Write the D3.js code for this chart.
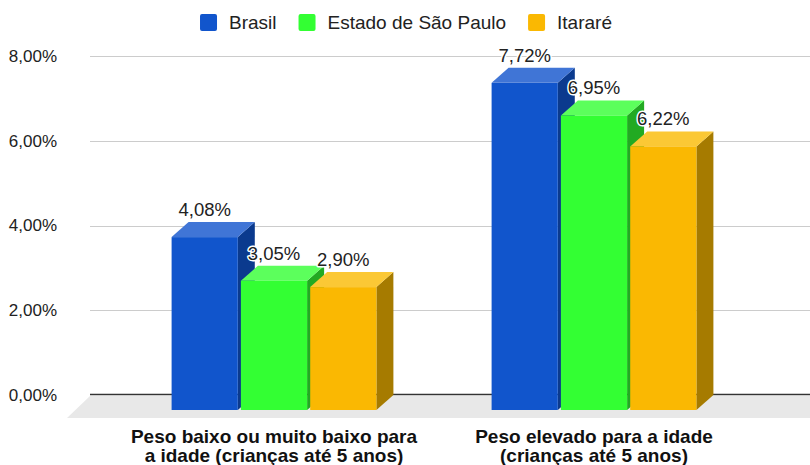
<!DOCTYPE html>
<html>
<head>
<meta charset="utf-8">
<script src="https://cdn.jsdelivr.net/npm/d3@7"></script>
<style>
  body { margin: 0; background: #fff; }
  svg { display: block; font-family: Arial, "Liberation Sans", sans-serif; }
</style>
</head>
<body>
<svg id="chart" width="810" height="465"></svg>
<script>
const categories = ["Peso baixo ou muito baixo para a idade (crianças até 5 anos)", "Peso elevado para a idade (crianças até 5 anos)"];
const categoryLines = [["Peso baixo ou muito baixo para", "a idade (crianças até 5 anos)"], ["Peso elevado para a idade", "(crianças até 5 anos)"]];
const seriesNames = ["Brasil", "Estado de São Paulo", "Itararé"];
const brasil = [4.08, 7.72];
const saoPaulo = [3.05, 6.95];
const itarare = [2.90, 6.22];
const yTicks = [0, 2, 4, 6, 8];

const seriesValues = [brasil, saoPaulo, itarare];
const colors = [
  { front: "#1155cc", top: "#4075d6", side: "#0b3a8e" },
  { front: "#33ff33", top: "#5cff5c", side: "#22aa22" },
  { front: "#fab802", top: "#fbc835", side: "#a67b00" }
];

const locale = d3.formatLocale({ decimal: ",", thousands: ".", grouping: [3], currency: ["", ""] });
const pct = locale.format(".2f");

// 3d depth offset (back plane = front + dx, -dy)
const dx = 17, dy = 15;

const svg = d3.select("#chart");

const y = d3.scaleLinear().domain([0, 8]).range([395, 56]);

const x0 = d3.scaleBand()
  .domain(categories)
  .range([114, 754])
  .paddingInner(0.36)
  .paddingOuter(0.18);

const x1 = d3.scaleBand()
  .domain(seriesNames)
  .range([0, x0.bandwidth()])
  .paddingInner(0.045);

// floor
svg.append("polygon")
  .attr("points", [[90, 396], [840, 396], [817, 418], [67, 418]].map(p => p.join(",")).join(" "))
  .attr("fill", "#e8e8e8");

// gridlines
svg.append("g")
  .selectAll("line")
  .data(yTicks.filter(d => d > 0))
  .join("line")
  .attr("x1", 90).attr("x2", 810)
  .attr("y1", d => Math.round(y(d)) + 0.5)
  .attr("y2", d => Math.round(y(d)) + 0.5)
  .attr("stroke", "#cccccc")
  .attr("stroke-width", 1);

svg.append("line")
  .attr("x1", 90).attr("x2", 810)
  .attr("y1", y(0) - 0.5).attr("y2", y(0) - 0.5)
  .attr("stroke", "#333333")
  .attr("stroke-width", 1.5);

// y axis labels
const yAxis = d3.axisLeft(y).tickValues(yTicks).tickSize(0).tickPadding(0)
  .tickFormat(d => pct(d) + "%");
const gy = svg.append("g").attr("transform", "translate(57,0)").call(yAxis);
gy.select(".domain").remove();
gy.selectAll("text")
  .style("font-size", "17px")
  .style("fill", "#222")
  .style("font-family", "Arial, 'Liberation Sans', sans-serif");

// bars
const bars = [];
categories.forEach((c, ci) => {
  seriesNames.forEach((s, si) => {
    bars.push({ c, s, si, v: seriesValues[si][ci] });
  });
});

const gBars = svg.append("g");
bars.forEach(b => {
  const xf = x0(b.c) + x1(b.s);
  const w = x1.bandwidth();
  const yt = y(b.v) + dy;
  const yb = y(0) + dy;
  const col = colors[b.si];
  const g = gBars.append("g");
  g.append("polygon")
    .attr("points", [[xf + w, yt], [xf + w + dx, yt - dy], [xf + w + dx, yb - dy], [xf + w, yb]].join(" "))
    .attr("fill", col.side);
  g.append("polygon")
    .attr("points", [[xf, yt], [xf + dx, yt - dy], [xf + w + dx, yt - dy], [xf + w, yt]].join(" "))
    .attr("fill", col.top);
  g.append("rect")
    .attr("x", xf).attr("y", yt)
    .attr("width", w).attr("height", yb - yt)
    .attr("fill", col.front);
});

// value labels
svg.append("g")
  .selectAll("text")
  .data(bars)
  .join("text")
  .attr("x", d => x0(d.c) + x1(d.s) + x1.bandwidth() / 2)
  .attr("y", d => y(d.v) - 6)
  .attr("text-anchor", "middle")
  .style("font-size", "18.5px")
  .style("fill", "#222")
  .style("stroke", "#fff")
  .style("stroke-width", 3)
  .style("stroke-linejoin", "round")
  .style("paint-order", "stroke")
  .text(d => pct(d.v) + "%");

// category labels
const gx = svg.append("g");
categories.forEach((c, ci) => {
  const cx = x0(c) + x0.bandwidth() / 2;
  const t = gx.append("text")
    .attr("x", cx)
    .attr("y", 443)
    .attr("text-anchor", "middle")
    .style("font-size", "19px")
    .style("font-weight", "bold")
    .style("fill", "#111");
  categoryLines[ci].forEach((line, li) => {
    t.append("tspan").attr("x", cx).attr("dy", li === 0 ? 0 : 19).text(line);
  });
});

// legend
const legend = svg.append("g");
let lx = 0;
seriesNames.forEach((name, i) => {
  const g = legend.append("g");
  g.append("rect")
    .attr("x", 0).attr("y", 14)
    .attr("width", 17).attr("height", 17)
    .attr("rx", 2)
    .attr("fill", colors[i].front);
  const t = g.append("text")
    .attr("x", 29).attr("y", 29)
    .style("font-size", "19px")
    .style("fill", "#222")
    .text(name);
  const w = 29 + t.node().getComputedTextLength();
  g.attr("transform", `translate(${lx},0)`);
  lx += w + 22;
});
const legendWidth = lx - 22;
legend.attr("transform", `translate(${(810 - legendWidth) / 2 + 1},0)`);
</script>
</body>
</html>
